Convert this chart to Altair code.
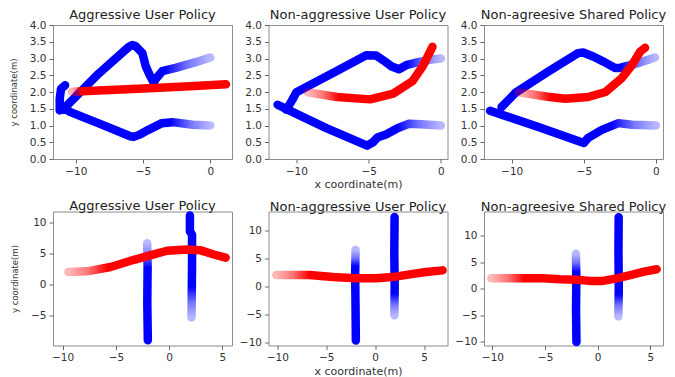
import altair as alt
import pandas as pd

TITLES = ["Aggressive User Policy", "Non-aggressive User Policy", "Non-agreesive Shared Policy",
          "Aggressive User Policy", "Non-aggressive User Policy", "Non-agreesive Shared Policy"]

# ---------------- top row ----------------
P1_BLUE1_X = [0.0, -1.07, -2.57, -3.57, -4.07, -4.2, -4.5, -4.8, -5.05, -5.55, -5.8, -6.05, -8.3, -10.9, -11.2, -11.2, -11.1, -10.8]
P1_BLUE1_Y = [3.03, 2.89, 2.72, 2.62, 2.38, 2.28, 2.5, 2.77, 3.16, 3.37, 3.4, 3.35, 2.55, 1.5, 1.45, 1.8, 2.1, 2.2]
P1_BLUE2_X = [0.0, -1.3, -2.8, -3.6, -4.6, -5.3, -5.7, -5.95, -8.2, -10.4, -10.7, -11.0]
P1_BLUE2_Y = [1.0, 1.02, 1.1, 1.07, 0.87, 0.72, 0.66, 0.68, 1.05, 1.4, 1.48, 1.47]
P1_RED_X = [-10.3, -7.5, -4.55, -1.5, 1.17]
P1_RED_Y = [2.01, 2.06, 2.11, 2.17, 2.23]

P2_BLUE1_X = [0.0, -0.5, -1.5, -2.4, -2.9, -3.4, -4.0, -4.48, -5.17, -7.24, -10.0, -10.3, -10.7]
P2_BLUE1_Y = [3.0, 2.98, 2.9, 2.8, 2.68, 2.76, 2.95, 3.09, 3.1, 2.62, 1.99, 1.75, 1.47]
P2_BLUE2_X = [0.0, -1.4, -2.2, -3.0, -3.8, -4.4, -4.7, -5.1, -7.93, -10.5, -11.3]
P2_BLUE2_Y = [1.0, 1.04, 1.05, 0.92, 0.73, 0.64, 0.5, 0.4, 0.92, 1.45, 1.62]
P2_RED_X = [-9.2, -7.2, -4.9, -3.3, -1.95, -1.25, -0.58]
P2_RED_Y = [1.99, 1.85, 1.78, 1.95, 2.33, 2.77, 3.35]

P3_BLUE1_X = [-0.07, -1.2, -2.5, -2.85, -3.6, -4.35, -5.05, -5.4, -7.5, -9.7, -10.25, -10.7]
P3_BLUE1_Y = [3.03, 2.87, 2.72, 2.72, 2.9, 3.06, 3.18, 3.16, 2.6, 1.99, 1.75, 1.55]
P3_BLUE2_X = [0.0, -1.65, -2.6, -3.75, -4.7, -5.0, -8.2, -11.5]
P3_BLUE2_Y = [1.0, 1.02, 1.07, 0.87, 0.63, 0.48, 0.96, 1.44]
P3_RED_X = [-9.5, -7.5, -6.3, -4.7, -3.5, -2.4, -1.7, -1.1, -0.75]
P3_RED_Y = [1.99, 1.86, 1.8, 1.85, 2.0, 2.4, 2.78, 3.2, 3.32]

# ---------------- bottom row ----------------
P4_BLUE1_X = [-2.06, -2.02, -2.05, -2.0]
P4_BLUE1_Y = [6.6, 3.0, -3.0, -8.95]
P4_BLUE2_X = [2.1, 2.15, 2.15, 1.95, 1.95]
P4_BLUE2_Y = [-5.3, 3.0, 8.0, 8.5, 11.05]
P4_RED_X = [-9.45, -7.7, -5.5, -3.3, -1.7, -0.2, 1.7, 2.9, 4.2, 5.3]
P4_RED_Y = [2.0, 2.1, 2.8, 3.95, 4.7, 5.4, 5.6, 5.5, 4.8, 4.3]

P5_BLUE1_X = [-2.0, -2.04, -2.0, -1.97]
P5_BLUE1_Y = [6.45, 2.0, -4.0, -9.7]
P5_BLUE2_X = [1.97, 2.0, 1.96, 1.99]
P5_BLUE2_Y = [-5.2, 0.0, 6.0, 12.3]
P5_RED_X = [-10.1, -6.7, -4.3, -2.0, 0.1, 1.8, 3.2, 5.2, 6.9]
P5_RED_Y = [1.97, 1.97, 1.6, 1.4, 1.4, 1.6, 2.0, 2.5, 2.8]

P6_BLUE1_X = [-2.07, -2.03, -2.06, -2.02]
P6_BLUE1_Y = [6.6, 2.0, -4.0, -10.05]
P6_BLUE2_X = [1.96, 2.0, 1.97, 1.99]
P6_BLUE2_Y = [-5.2, 0.0, 7.0, 13.5]
P6_RED_X = [-10.1, -5.2, -3.6, -2.0, -0.75, 0.5, 1.8, 3.1, 4.3, 5.6]
P6_RED_Y = [1.98, 1.98, 1.8, 1.7, 1.5, 1.5, 1.98, 2.6, 3.2, 3.7]

# axis ranges and ticks
X_DOMAINS = [[-11.7, 1.62], [-11.93, 0.46], [-11.92, 0.49], [-10.9, 5.9], [-10.9, 7.4], [-10.8, 6.2]]
Y_DOMAINS = [[0, 4], [0, 4], [0, 4], [-9.8, 11.7], [-10.6, 13.3], [-10.7, 14.6]]
X_TICKS_TOP = [-10, -5, 0]
X_TICKS_BOTTOM = [-10, -5, 0, 5]
Y_TICKS_TOP = [0.0, 0.5, 1.0, 1.5, 2.0, 2.5, 3.0, 3.5, 4.0]
Y_TICKS_BOTTOM = [[-5, 0, 5, 10], [-10, -5, 0, 5, 10], [-10, -5, 0, 5, 10]]

BLUE = (0, 0, 255)
RED = (255, 0, 0)


def grad(rgb, direction, frac):
    r, g, b = rgb
    pos = {"left": (1, 0, 0, 0), "right": (0, 0, 1, 0), "down": (0, 0, 0, 1), "up": (0, 1, 0, 0)}[direction]
    x1, y1, x2, y2 = pos
    return {
        "gradient": "linear", "x1": x1, "y1": y1, "x2": x2, "y2": y2,
        "stops": [
            {"offset": 0, "color": f"rgba({r},{g},{b},0.28)"},
            {"offset": frac * 0.5, "color": f"rgba({r},{g},{b},0.55)"},
            {"offset": frac, "color": f"rgba({r},{g},{b},1)"},
            {"offset": 1, "color": f"rgba({r},{g},{b},1)"},
        ],
    }


PANELS = [
    [(P1_BLUE1_X, P1_BLUE1_Y, BLUE, "left", 0.3), (P1_BLUE2_X, P1_BLUE2_Y, BLUE, "left", 0.27), (P1_RED_X, P1_RED_Y, RED, "right", 0.06)],
    [(P2_BLUE1_X, P2_BLUE1_Y, BLUE, "left", 0.22), (P2_BLUE2_X, P2_BLUE2_Y, BLUE, "left", 0.27), (P2_RED_X, P2_RED_Y, RED, "right", 0.25)],
    [(P3_BLUE1_X, P3_BLUE1_Y, BLUE, "left", 0.22), (P3_BLUE2_X, P3_BLUE2_Y, BLUE, "left", 0.27), (P3_RED_X, P3_RED_Y, RED, "right", 0.25)],
    [(P4_BLUE1_X, P4_BLUE1_Y, BLUE, "down", 0.25), (P4_BLUE2_X, P4_BLUE2_Y, BLUE, "up", 0.3), (P4_RED_X, P4_RED_Y, RED, "right", 0.25)],
    [(P5_BLUE1_X, P5_BLUE1_Y, BLUE, "down", 0.18), (P5_BLUE2_X, P5_BLUE2_Y, BLUE, "up", 0.22), (P5_RED_X, P5_RED_Y, RED, "right", 0.2)],
    [(P6_BLUE1_X, P6_BLUE1_Y, BLUE, "down", 0.2), (P6_BLUE2_X, P6_BLUE2_Y, BLUE, "up", 0.22), (P6_RED_X, P6_RED_Y, RED, "right", 0.2)],
]


def make_panel(k):
    top = k < 3
    xticks = X_TICKS_TOP if top else X_TICKS_BOTTOM
    yticks = Y_TICKS_TOP if top else Y_TICKS_BOTTOM[k - 3]
    xaxis_kw = dict(values=xticks, format="d", labelFlush=False, labelOverlap=False,
                    title="x coordinate(m)" if k in (1, 4) else "")
    yaxis_kw = dict(values=yticks, format=".1f" if top else "d", labelFlush=False, labelOverlap=False,
                    title="y coordinate(m)" if k in (0, 3) else "")
    layers = []
    for xs, ys, rgb, direction, frac in PANELS[k]:
        df = pd.DataFrame({"x": xs, "y": ys, "i": list(range(len(xs)))})
        layers.append(
            alt.Chart(df).mark_line(stroke=grad(rgb, direction, frac), strokeWidth=8.5,
                                    strokeCap="round", strokeJoin="round").encode(
                x=alt.X("x:Q", scale=alt.Scale(domain=X_DOMAINS[k], nice=False, zero=False), axis=alt.Axis(**xaxis_kw)),
                y=alt.Y("y:Q", scale=alt.Scale(domain=Y_DOMAINS[k], nice=False, zero=False), axis=alt.Axis(**yaxis_kw)),
                order=alt.Order("i:Q"),
            )
        )
    return alt.layer(*layers).properties(width=179, height=134, title=TITLES[k])


chart = alt.concat(*[make_panel(k) for k in range(6)], columns=3,
                   spacing={"row": 52.5, "column": 36.5}, bounds="flush").properties(
    padding={"left": 0, "top": 0, "right": 0, "bottom": 0}
).configure_view(stroke="#8c8c8c", strokeWidth=1).configure_axis(
    grid=False, domain=False, tickColor="#666", tickSize=4, tickWidth=1,
    labelFont="DejaVu Sans", labelFontSize=10.5, labelColor="#333", labelPadding=3,
    titleFont="DejaVu Sans", titleFontSize=11, titleFontWeight="normal", titleColor="#333",
).configure_axisY(
    titleFontSize=8.5, titlePadding=11,
).configure_axisX(titlePadding=2).configure_title(
    font="DejaVu Sans", fontSize=13, fontWeight="normal", color="#222", anchor="middle",
    offset=-2, baseline="alphabetic",
)

chart.save("out.html", embed_options={"renderer": "svg", "actions": False})
